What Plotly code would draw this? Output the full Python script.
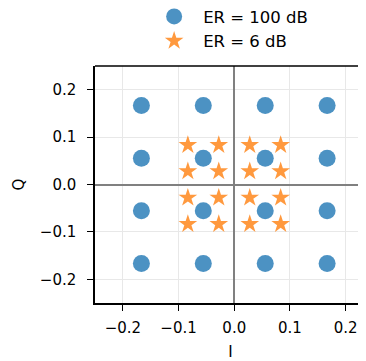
import plotly.graph_objects as go

# Constellation levels
er100_levels = [-0.1667, -0.0556, 0.0556, 0.1667]
er6_levels = [-0.0833, -0.0278, 0.0278, 0.0833]
x_ticks = [-0.2, -0.1, 0.0, 0.1, 0.2]
y_ticks = [-0.2, -0.1, 0.0, 0.1, 0.2]

er100_i = [i for q in er100_levels for i in er100_levels]
er100_q = [q for q in er100_levels for i in er100_levels]
er6_i = [i for q in er6_levels for i in er6_levels]
er6_q = [q for q in er6_levels for i in er6_levels]

fig = go.Figure()
fig.add_trace(go.Scatter(
    x=er100_i, y=er100_q, mode="markers", name="ER = 100 dB",
    marker=dict(symbol="circle", size=17, color="rgba(31,119,180,0.8)", line=dict(width=0)),
))
fig.add_trace(go.Scatter(
    x=er6_i, y=er6_q, mode="markers", name="ER = 6 dB",
    marker=dict(symbol="star", size=14, color="rgba(255,127,14,0.8)", line=dict(width=0)),
))

tfont = dict(family="DejaVu Sans", size=15, color="#000000")
axis_common = dict(
    showgrid=True, gridcolor="#e8e8e8", gridwidth=1,
    zeroline=True, zerolinecolor="#808080", zerolinewidth=1.5,
    showline=True, linecolor="#000000", linewidth=1.5,
    ticks="outside", ticklen=6, tickwidth=1.2, tickcolor="#000000",
    tickfont=tfont, mirror=False,
)
fig.update_xaxes(range=[-0.25, 0.2365], tickvals=x_ticks, tickformat=".1f",
                 ticklabelstandoff=4,
                 title=dict(text="I", font=tfont, standoff=12),
                 **axis_common)
fig.update_yaxes(range=[-0.25, 0.25], tickvals=y_ticks, tickformat=".1f",
                 ticklabelstandoff=8,
                 title=dict(text="Q", font=tfont, standoff=12),
                 **axis_common)

# top spine
fig.add_shape(type="line", xref="paper", yref="paper", x0=0, x1=1, y0=1, y1=1,
              line=dict(color="#000000", width=1.6))

fig.update_layout(
    width=358, height=353,
    margin=dict(l=87, r=0, t=58, b=58, autoexpand=False),
    plot_bgcolor="white", paper_bgcolor="white",
    font=tfont,
    legend=dict(x=0.185, y=1.282, xanchor="left", yanchor="top",
                itemwidth=48,
                font=dict(family="DejaVu Sans", size=16.5, color="#000000"),
                bgcolor="rgba(0,0,0,0)", tracegroupgap=0),
)

fig.write_html("out.html")
